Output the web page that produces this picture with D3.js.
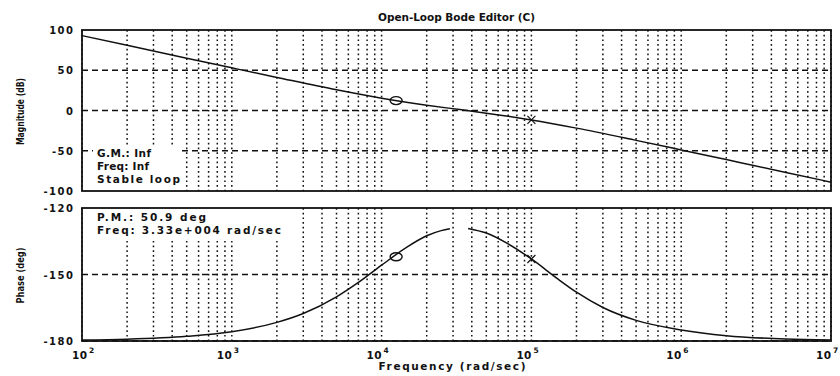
<!DOCTYPE html>
<html><head><meta charset="utf-8">
<script src="https://cdn.jsdelivr.net/npm/d3@7/dist/d3.min.js"></script>
<style>
body{margin:0;background:#fff;}
svg{display:block;font-family:"DejaVu Sans",Arial,sans-serif;font-weight:bold;}
</style></head>
<body><svg id="c" width="840" height="376"></svg>
<script>
// ---- data ----
const freqs     = [1e2, 2e2, 5e2, 1e3, 2e3, 5e3, 1e4, 2e4, 3.33e4, 5e4, 1e5, 2e5, 5e5, 1e6, 2e6, 5e6, 1e7];
const magDb     = [93, 81, 65, 53, 41.1, 25.7, 15.3, 6.6, 1.1, -3.3, -11.7, -21.9, -37.1, -49.0, -61.0, -76.9, -89.0];
const phaseFreqs = [1e2, 2e2, 5e2, 1e3, 2e3, 3e3, 5e3, 7e3, 1e4, 1.5e4, 2e4, 2.5e4, 2.86e4, null, 3.78e4, 5e4, 7e4, 1e5, 1.5e5, 2e5, 3e5, 5e5, 1e6, 2e6, 5e6, 1e7];
const phaseDeg   = [-179.6, -179.2, -177.9, -175.8, -171.6, -167.6, -160.1, -153.6, -145.8, -137.3, -132.5, -130.2, -129.4, null, -129.2, -131.3, -136.2, -143.0, -152.0, -158.0, -164.9, -170.7, -175.0, -177.6, -179.1, -179.5];
const circleMarker = {freq: 1.25e4, mag: 12.3, phase: -142};
const crossMarker  = {freq: 1e5, mag: -11.7, phase: -143};
const magTicks   = [100, 50, 0, -50, -100];
const phaseTicks = [-120, -150, -180];
const decadeExps = [2, 3, 4, 5, 6, 7];
const titleText = "Open-Loop Bode Editor (C)";
const magLabel = "Magnitude (dB)";
const phaseLabel = "Phase (deg)";
const xLabel = "Frequency (rad/sec)";
const gmLines = ["G.M.: Inf", "Freq: Inf", "Stable loop"];
const pmLines = ["P.M.: 50.9 deg", "Freq: 3.33e+004 rad/sec"];

// ---- drawing ----
const svg = d3.select("#c");
const L = 82, R = 831;
const x = d3.scaleLog().domain([1e2, 1e7]).range([L, R]);
const yM = d3.scaleLinear().domain([-100, 100]).range([191, 30]);
const yP = d3.scaleLinear().domain([-180, -120]).range([341, 208]);
const ink = "#111";

function fitText(sel, len, mode) {
  sel.attr("textLength", len).attr("lengthAdjust", mode || "spacing");
}

function panel(y, hTicks, dashedVals) {
  const g = svg.append("g");
  const [y0, y1] = y.range();
  g.selectAll("line.v").data(x.ticks()).enter().append("line")
    .attr("x1", d => x(d)).attr("x2", d => x(d))
    .attr("y1", y1).attr("y2", y0)
    .attr("stroke", ink).attr("stroke-width", 1.5)
    .attr("stroke-dasharray", "1.7,3");
  g.selectAll("line.h").data(dashedVals).enter().append("line")
    .attr("x1", L).attr("x2", R)
    .attr("y1", d => y(d)).attr("y2", d => y(d))
    .attr("stroke", ink).attr("stroke-width", 1.3)
    .attr("stroke-dasharray", "6,4");
  g.selectAll("text.t").data(hTicks).enter().append("text")
    .attr("x", 74.5).attr("y", d => y(d) + 4)
    .attr("text-anchor", "end").attr("font-size", 10).attr("letter-spacing", 1.5)
    .attr("fill", ink).text(d => d);
  return g;
}

panel(yM, magTicks, [50, 0, -50]);
panel(yP, phaseTicks, [-150, -180]);

// curves
const magLine = d3.line().x((d, i) => x(freqs[i])).y(d => yM(d)).curve(d3.curveMonotoneX);
svg.append("path").attr("d", magLine(magDb)).attr("fill", "none")
  .attr("stroke", ink).attr("stroke-width", 1.5);
const phLine = d3.line().defined(d => d !== null)
  .x((d, i) => x(phaseFreqs[i])).y(d => yP(d)).curve(d3.curveMonotoneX);
svg.append("path").attr("d", phLine(phaseDeg)).attr("fill", "none")
  .attr("stroke", ink).attr("stroke-width", 1.5);

// text boxes with white backgrounds
const gmLen = [54, 52, 83], pmLen = [109, 184];
function textBox(lines, lens, x0, yBase, step, top, bottom) {
  const g = svg.append("g");
  g.append("rect").attr("x", x0 - 4).attr("y", top)
    .attr("width", d3.max(lens) + 6).attr("height", bottom - top).attr("fill", "#fff");
  g.selectAll("text").data(lines).enter().append("text")
    .attr("x", x0).attr("y", (d, i) => yBase + i * step)
    .attr("font-size", 10.5).attr("fill", ink).text(d => d)
    .each(function(d, i){ fitText(d3.select(this), lens[i]); });
}
textBox(gmLines, gmLen, 97, 157, 13, 145, 191);
textBox(pmLines, pmLen, 97, 221, 12.5, 208, 239);

// markers
[[yM, "mag"], [yP, "phase"]].forEach(([y, k]) => {
  svg.append("ellipse").attr("cx", x(circleMarker.freq)).attr("cy", y(circleMarker[k]))
    .attr("rx", 6).attr("ry", 4).attr("fill", "none").attr("stroke", ink).attr("stroke-width", 1.4);
  const cx = x(crossMarker.freq), cy = y(crossMarker[k]);
  svg.append("path").attr("d", `M${cx-4},${cy-4}L${cx+4},${cy+4}M${cx-4},${cy+4}L${cx+4},${cy-4}`)
    .attr("stroke", ink).attr("stroke-width", 1.2);
});

// frames
[yM, yP].forEach(y => {
  const [y0, y1] = y.range();
  svg.append("rect").attr("x", L).attr("y", y1).attr("width", R - L).attr("height", y0 - y1)
    .attr("fill", "none").attr("stroke", ink).attr("stroke-width", 1.8);
});

// x tick labels: "10" ends at the tick, exponent after it
const xt = svg.selectAll("g.xt").data(decadeExps).enter().append("g")
  .attr("transform", (d, i) => `translate(${x(Math.pow(10, d)) + (i === 0 ? 5 : 0)},0)`);
xt.append("text").attr("x", 0).attr("y", 359).attr("text-anchor", "end")
  .attr("font-size", 10.5).attr("fill", ink).text("10")
  .each(function(){ fitText(d3.select(this), 15); });
xt.append("text").attr("x", 2).attr("y", 353).attr("font-size", 7.5).attr("fill", ink).text(d => d);

// titles
fitText(svg.append("text").attr("x", 456.5).attr("y", 21).attr("text-anchor", "middle")
  .attr("font-size", 10.5).attr("fill", ink).text(titleText), 157);
fitText(svg.append("text").attr("x", 452).attr("y", 370).attr("text-anchor", "middle")
  .attr("font-size", 10.5).attr("fill", ink).text(xLabel), 147);
fitText(svg.append("text").attr("transform", "translate(24,111.5) rotate(-90)").attr("text-anchor", "middle")
  .attr("font-size", 10.5).attr("fill", ink).text(magLabel), 67, "spacingAndGlyphs");
fitText(svg.append("text").attr("transform", "translate(24,275.5) rotate(-90)").attr("text-anchor", "middle")
  .attr("font-size", 11).attr("fill", ink).text(phaseLabel), 56, "spacingAndGlyphs");
</script></body></html>
